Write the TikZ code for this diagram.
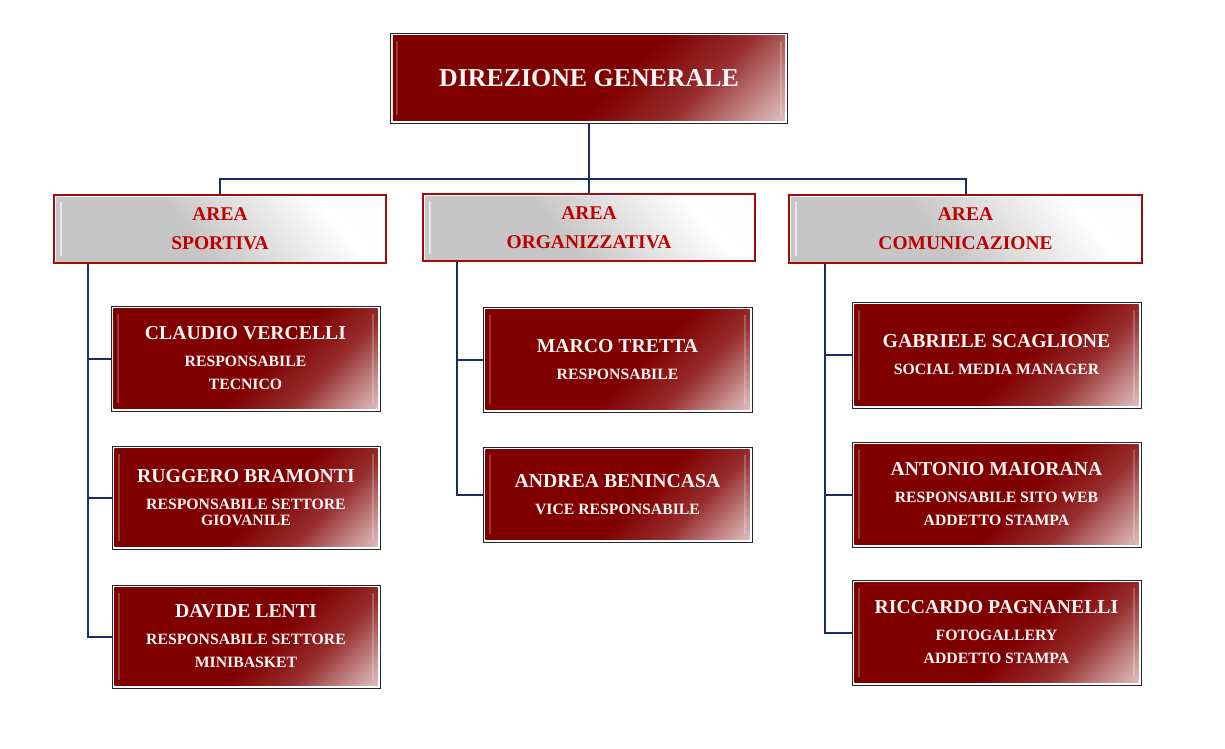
\documentclass[tikz,border=0pt]{standalone}
\usepackage{fontspec}
\setmainfont{Liberation Serif}
\usetikzlibrary{calc}

\definecolor{darkbox}{RGB}{128,0,0}
\definecolor{lightbox}{RGB}{248,228,228}
\definecolor{greybox}{RGB}{198,198,198}
\definecolor{areared}{RGB}{192,0,0}
\definecolor{areaframe}{RGB}{165,10,10}
\definecolor{linknavy}{RGB}{25,45,105}
\definecolor{textwhite}{RGB}{252,246,246}

\pgfdeclarehorizontalshading{redglow}{100bp}{color(0bp)=(darkbox); color(55bp)=(darkbox); color(68bp)=(darkbox!82!white); color(80bp)=(darkbox!40!white); color(90bp)=(lightbox); color(100bp)=(white)}
\pgfdeclarehorizontalshading{greyglow}{100bp}{color(0bp)=(greybox); color(44bp)=(greybox); color(72bp)=(white); color(90bp)=(white!92!greybox); color(100bp)=(greybox!60!white)}

\newcommand{\dirfont}{\fontsize{19.4}{23}\selectfont\bfseries}
\newcommand{\namefont}{\fontsize{14.8}{18}\selectfont\bfseries}
\newcommand{\rolefont}{\fontsize{11.8}{17.25}\selectfont\bfseries}
\newcommand{\areafont}{\fontsize{14.6}{21.75}\selectfont\bfseries}

\tikzset{
  px/.style 2 args={minimum width=#1*0.75pt, minimum height=#2*0.75pt},
  bevel/.style={white, opacity=0.22, line width=1.3pt},
  persona/.style={rectangle, draw=black!85, line width=0.6pt, fill=white,
    inner sep=0pt, text=textwhite, font=\rolefont, align=center,
    path picture={
      \shade[shading=redglow, shading angle=-45]
        ([xshift=1.8pt,yshift=-1.8pt]path picture bounding box.north west) rectangle
        ([xshift=-1.8pt,yshift=1.8pt]path picture bounding box.south east);
      \draw[bevel] ([xshift=5pt,yshift=-6pt]path picture bounding box.north west)
        -- ([xshift=5pt,yshift=6pt]path picture bounding box.south west);
      \draw[bevel] ([xshift=-5pt,yshift=-6pt]path picture bounding box.north east)
        -- ([xshift=-5pt,yshift=6pt]path picture bounding box.south east);
    }},
  direzione/.style={persona, font=\dirfont},
  area/.style={rectangle, draw=areaframe, line width=1.8pt, fill=white,
    inner sep=0pt, text=areared, font=\areafont, align=center,
    path picture={
      \shade[shading=greyglow, shading angle=40]
        ([xshift=1.5pt,yshift=-1.5pt]path picture bounding box.north west) rectangle
        ([xshift=-1.5pt,yshift=1.5pt]path picture bounding box.south east);
      \draw[bevel, opacity=0.6] ([xshift=5pt,yshift=-5pt]path picture bounding box.north west)
        -- ([xshift=5pt,yshift=5pt]path picture bounding box.south west);
      \draw[bevel, opacity=0.6] ([xshift=-5pt,yshift=-5pt]path picture bounding box.north east)
        -- ([xshift=-5pt,yshift=5pt]path picture bounding box.south east);
    }},
  link/.style={draw=linknavy, line width=1.5pt}
}

\begin{document}
\begin{tikzpicture}[x=0.75pt, y=-0.75pt]
        \useasboundingbox (0,0) rectangle (1225,749);

        % Direzione
        \node[direzione, px={397}{90}] (dir) at (589,78) {DIREZIONE GENERALE};

        % Aree
        \node[area, px={332}{68}] (sport) at (220,229) {AREA\\SPORTIVA};
        \node[area, px={332}{67}] (org) at (589,227.5) {AREA\\ORGANIZZATIVA};
        \node[area, px={353}{68}] (com) at (965.5,229) {AREA\\COMUNICAZIONE};

        % Area sportiva
        \node[persona, px={269}{105}] (claudio) at (245.5,358.5)
            {{\namefont CLAUDIO VERCELLI}\\[3pt]RESPONSABILE\\TECNICO};
        \node[persona, px={268}{103}] (ruggero) at (246,497.5)
            {{\namefont RUGGERO BRAMONTI}\\[3pt]RESPONSABILE SETTORE\\[-5pt]GIOVANILE};
        \node[persona, px={268}{103}] (davide) at (246,636.5)
            {{\namefont DAVIDE LENTI}\\[3pt]RESPONSABILE SETTORE\\MINIBASKET};

        % Area organizzativa
        \node[persona, px={269}{105}] (marco) at (617.5,359.5)
            {{\namefont MARCO TRETTA}\\[3pt]RESPONSABILE};
        \node[persona, px={269}{95}] (andrea) at (617.5,494.5)
            {{\namefont ANDREA BENINCASA}\\[3pt]VICE RESPONSABILE};

        % Area comunicazione
        \node[persona, px={289}{106}] (gabriele) at (996.5,355)
            {{\namefont GABRIELE SCAGLIONE}\\[3pt]SOCIAL MEDIA MANAGER};
        \node[persona, px={289}{105}] (antonio) at (996.5,494.5)
            {{\namefont ANTONIO MAIORANA}\\[3pt]RESPONSABILE SITO WEB\\ADDETTO STAMPA};
        \node[persona, px={289}{105}] (riccardo) at (996.5,632.5)
            {{\namefont RICCARDO PAGNANELLI}\\[3pt]FOTOGALLERY\\ADDETTO STAMPA};

        % Links direzione - aree
        \coordinate (bus) at (589,179);
        \draw[link, line width=2pt] (dir.south) -- (org.north);
        \draw[link] (sport.north) |- (bus) -| (com.north);

        % Links aree - persone
        \coordinate (sportspine) at ($(sport.south west)+(35,0)$);
        \coordinate (orgspine) at ($(org.south west)+(35,0)$);
        \coordinate (comspine) at ($(com.south west)+(37,0)$);
        \draw[link] (sportspine) |- (davide.west);
        \draw[link] (orgspine) |- (andrea.west);
        \draw[link] (comspine) |- (riccardo.west);
        \foreach \p in {claudio,ruggero}
            \draw[link] (sportspine |- \p.west) -- (\p.west);
        \draw[link] (orgspine |- marco.west) -- (marco.west);
        \foreach \p in {gabriele,antonio}
            \draw[link] (comspine |- \p.west) -- (\p.west);
\end{tikzpicture}
\end{document}
